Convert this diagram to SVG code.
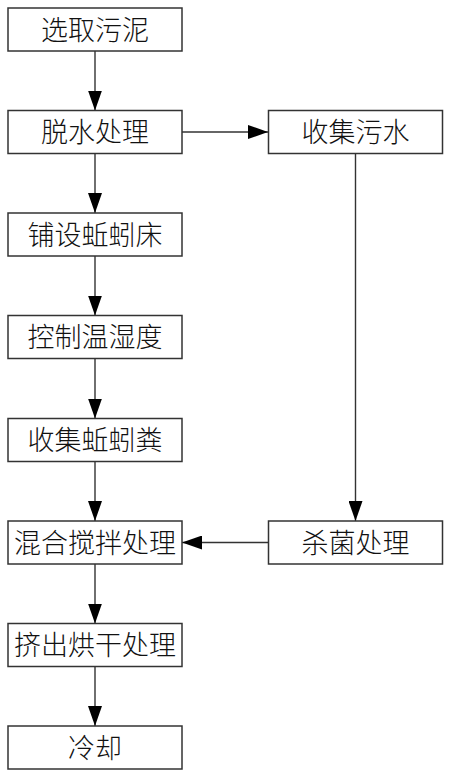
<svg xmlns="http://www.w3.org/2000/svg" width="450" height="777" viewBox="0 0 450 777">
<style>
.box{fill:#fff;stroke:#333;stroke-width:1.5}
.lbl{font-family:"Noto Sans CJK SC","Liberation Sans",sans-serif;font-size:27px;fill:#111;text-anchor:middle;font-weight:300}
.ln{stroke:#333;stroke-width:1.4;fill:none;marker-end:url(#ah)}
</style>
<defs>
<marker id="ah" markerUnits="userSpaceOnUse" markerWidth="21" markerHeight="14" refX="20" refY="7" orient="auto">
<path d="M0,0 L20,7 L0,14 z" fill="#000"/>
</marker>
</defs>
<rect width="450" height="777" fill="#fff"/>
<g id="connectors">
<line class="ln" x1="95" y1="51" x2="95" y2="110.5"/>
<line class="ln" x1="95" y1="153.5" x2="95" y2="213"/>
<line class="ln" x1="95" y1="256" x2="95" y2="315.5"/>
<line class="ln" x1="95" y1="358.5" x2="95" y2="418.5"/>
<line class="ln" x1="95" y1="461.5" x2="95" y2="521"/>
<line class="ln" x1="95" y1="564" x2="95" y2="623.5"/>
<line class="ln" x1="95" y1="666.5" x2="95" y2="726"/>
<line class="ln" x1="182" y1="132" x2="268" y2="132"/>
<line class="ln" x1="355.5" y1="153.5" x2="355.5" y2="521"/>
<line class="ln" x1="268.5" y1="542.5" x2="182" y2="542.5"/>
</g>
<g id="n1"><rect class="box" x="8" y="8" width="174" height="43"/><text class="lbl" x="95" y="39.5">选取污泥</text></g>
<g id="n2"><rect class="box" x="8" y="110.5" width="174" height="43"/><text class="lbl" x="95" y="142">脱水处理</text></g>
<g id="n3"><rect class="box" x="8" y="213" width="174" height="43"/><text class="lbl" x="95" y="244.5">铺设蚯蚓床</text></g>
<g id="n4"><rect class="box" x="8" y="315.5" width="174" height="43"/><text class="lbl" x="95" y="347">控制温湿度</text></g>
<g id="n5"><rect class="box" x="8" y="418.5" width="174" height="43"/><text class="lbl" x="95" y="450">收集蚯蚓粪</text></g>
<g id="n6"><rect class="box" x="8" y="521" width="174" height="43"/><text class="lbl" x="95" y="552.5">混合搅拌处理</text></g>
<g id="n7"><rect class="box" x="8" y="623.5" width="174" height="43"/><text class="lbl" x="95" y="655">挤出烘干处理</text></g>
<g id="n8"><rect class="box" x="8" y="726" width="174" height="43"/><text class="lbl" x="95" y="757.5">冷却</text></g>
<g id="n9"><rect class="box" x="268.5" y="110.5" width="174" height="43"/><text class="lbl" x="355.5" y="142">收集污水</text></g>
<g id="n10"><rect class="box" x="268.5" y="521" width="174" height="43"/><text class="lbl" x="355.5" y="552.5">杀菌处理</text></g>
</svg>
